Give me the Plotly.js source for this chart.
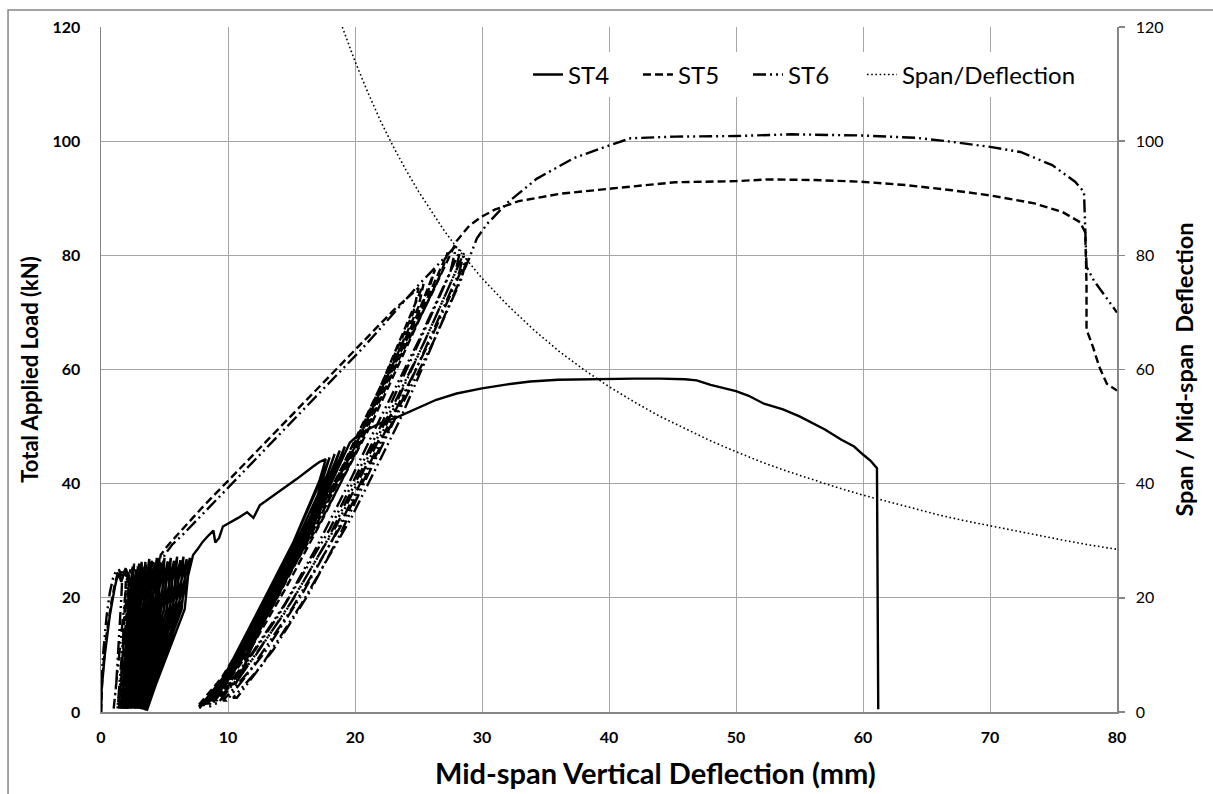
<!DOCTYPE html>
<html>
<head>
<meta charset="utf-8">
<script src="https://cdn.plot.ly/plotly-3.0.1.min.js"></script>
<style>html,body{margin:0;padding:0;background:#fff;}#chart{width:1213px;height:794px;}</style>
</head>
<body>
<div id="chart"></div>
<script>
// ---- ST4 (solid) : mid-span deflection (mm) / total applied load (kN)
const st4Deflection = [
  0, 0.05, 0.3, 0.7, 1.1, 1.35, 1.6, 1.9, 2.2,
  2.13, 1.73, 1.6, 1.98, 2.25, 2.5,
  2.40, 1.88, 1.7, 2.14, 2.46, 2.75,
  2.64, 2.01, 1.8, 2.30, 2.66, 3.0,
  2.87, 2.14, 1.9, 2.47, 2.87, 3.25,
  3.10, 2.28, 2.0, 2.63, 3.08, 3.5,
  3.33, 2.41, 2.1, 2.79, 3.29, 3.75,
  3.56, 2.54, 2.2, 2.96, 3.50, 4.0,
  3.80, 2.67, 2.3, 3.12, 3.70, 4.25,
  4.03, 2.81, 2.4, 3.28, 3.91, 4.5,
  4.26, 2.94, 2.5, 3.45, 4.12, 4.75,
  4.49, 3.07, 2.6, 3.61, 4.33, 5.0,
  4.72, 3.21, 2.7, 3.77, 4.54, 5.25,
  4.96, 3.34, 2.8, 3.93, 4.74, 5.5,
  5.19, 3.47, 2.9, 4.10, 4.95, 5.75,
  5.42, 3.61, 3.0, 4.26, 5.16, 6.0,
  5.65, 3.74, 3.1, 4.42, 5.37, 6.25,
  5.88, 3.87, 3.2, 4.59, 5.58, 6.5,
  6.12, 4.00, 3.3, 4.75, 5.78, 6.75,
  6.35, 4.18, 3.45, 4.94, 6.01, 7.0,
  6.59, 4.35, 3.6, 5.13, 6.23, 7.25,
  7.6, 8.0, 8.5, 8.85, 9.0, 9.3, 9.6, 10.2, 10.8, 11.5, 12.0, 12.5, 13.2, 14.1, 15.4, 16.7, 17.2, 17.7,
  17.2, 15.0, 12.0, 9.5, 7.7,
  7.9, 9.2, 10.6, 11.5, 11.2, 12.1, 14.5, 16.5, 18.0,
  17.4, 15.2, 12.2, 9.4, 8.0,
  8.3, 9.8, 11.0, 11.8, 14.8, 16.8, 18.4,
  17.8, 15.5, 12.5, 9.7, 8.3,
  8.6, 10.5, 12.5, 15.2, 17.2, 18.8,
  18.2, 15.8, 12.8, 10.0, 8.5,
  8.9, 11.0, 13.0, 15.8, 17.6, 19.2,
  18.6, 16.2, 13.1, 10.3, 8.8,
  9.2, 11.5, 13.5, 16.4, 18.1, 19.6,
  20.0, 21.0, 22.0, 23.3, 25.0, 26.4, 28.0, 30.0, 32.0, 33.8, 36.0, 38.0, 40.0, 42.0, 44.0, 46.0,
  46.9, 48.0, 50.0, 51.0, 52.2, 53.7, 55.0, 57.0, 58.3, 59.3, 60.0, 60.6, 61.1, 61.2
];
const st4Load = [
  0, 4, 10, 17, 22, 24.3, 22.8, 25, 24,
  18, 5, 0.6, 10, 18, 25.5,
  18, 5, 0.6, 10, 18, 25,
  18, 5, 0.6, 10, 18, 26,
  18, 5, 0.6, 10, 18, 25.5,
  18, 5, 0.6, 10, 18, 26.3,
  18, 5, 0.6, 10, 18, 25.8,
  18, 5, 0.6, 10, 18, 26.5,
  18, 5, 0.6, 10, 18, 26,
  18, 5, 0.6, 10, 18, 26.8,
  18, 5, 0.6, 10, 18, 26.2,
  18, 5, 0.6, 10, 18, 27,
  18, 5, 0.6, 10, 18, 26.4,
  18, 5, 0.6, 10, 18, 27,
  18, 5, 0.6, 10, 18, 26.5,
  18, 5, 0.6, 10, 18, 27.2,
  18, 5, 0.5, 10, 18, 26.6,
  18, 5, 0.5, 10, 18, 27.2,
  18, 5, 0.4, 10, 18, 26.8,
  18, 5, 0.3, 10, 18, 27,
  18, 5, 0.2, 10, 18, 27.5,
  28.5, 29.8, 31, 31.8, 29.7, 30.5, 32.5, 33.2, 34, 35, 34, 36.2, 37.3, 38.6, 40.8, 43, 43.8, 44.3,
  40.5, 29, 16, 5, 1,
  1.2, 4, 5, 8, 10.5, 14, 24.5, 34, 44.6,
  41, 30, 17, 5, 1.3,
  1.5, 5.5, 6.5, 11, 25, 35, 45.2,
  41.5, 30.5, 17.5, 5.5, 1.6,
  2, 8, 15.5, 27, 37, 45.8,
  42, 31, 18, 6.5, 2,
  2.5, 9.5, 17, 29, 38, 46.5,
  43, 32, 19, 7.5, 2.5,
  3, 10.5, 18.5, 31, 40, 47.2,
  48.0, 49.5, 50.6, 51.6, 53.3, 54.7, 55.8, 56.7, 57.4, 57.9, 58.2, 58.3, 58.3, 58.4, 58.4, 58.3,
  58.1, 57.3, 56.2, 55.4, 54.0, 53.0, 51.8, 49.5, 47.7, 46.5, 45.1, 44.0, 42.7, 0.5
];

// ---- ST5 (dashed)
const st5Deflection = [
  0, 0.1, 0.4, 0.8, 1.1, 1.4, 1.7, 2.0,
  1.9, 1.6, 1.4, 1.75, 2.0, 2.3,
  2.2, 1.8, 1.6, 1.98, 2.28, 2.6,
  2.5, 1.95, 1.75, 2.19, 2.53, 2.9,
  2.8, 2.1, 1.9, 2.39, 2.78, 3.2,
  3.1, 2.25, 2.05, 2.6, 3.04, 3.5,
  3.4, 2.4, 2.2, 2.81, 3.29, 3.8,
  3.7, 2.55, 2.35, 3.02, 3.54, 4.1,
  4.0, 2.7, 2.5, 3.22, 3.79, 4.4,
  4.3, 2.85, 2.65, 3.43, 4.04, 4.7,
  5.2, 6.0, 7.0, 8.0, 9.0, 10.0, 11.0, 12.0, 13.0, 14.0, 15.0, 16.0, 17.0, 18.0, 19.0, 20.0, 21.0, 22.0, 23.0, 24.0, 25.0,
  24.6, 23.0, 20.0, 16.0, 12.0, 9.5, 7.6,
  7.8, 10.0, 13.0, 16.0, 19.0, 22.0, 25.4,
  25.0, 23.2, 20.0, 16.0, 12.0, 9.6, 7.9,
  8.1, 10.5, 13.5, 16.5, 19.5, 22.5, 25.0, 26.3,
  25.8, 23.8, 20.5, 16.5, 12.5, 10.0, 8.3,
  8.5, 11.0, 14.0, 17.0, 20.0, 23.0, 25.5, 27.3,
  26.8, 24.7, 21.3, 17.2, 13.0, 10.4, 8.7,
  8.9, 11.5, 14.5, 17.5, 20.5, 23.5, 26.0, 28.0,
  29.0, 30.0, 31.0, 32.9, 36.2, 40.2, 45.2, 50.0, 52.5, 56.0, 59.8, 63.4, 67.0, 70.0, 73.5, 75.7, 77.1,
  77.5, 77.6, 77.6, 78.1, 78.6, 79.2, 80.0
];
const st5Load = [
  0, 6, 13, 19, 22.5, 25, 23.5, 25.5,
  20, 5, 0.6, 10, 18, 25,
  20, 5, 0.6, 10, 18, 26,
  20, 5, 0.6, 10, 18, 25.5,
  20, 5, 0.6, 10, 18, 26.3,
  20, 5, 0.6, 10, 18, 26,
  20, 5, 0.6, 10, 18, 26.8,
  20, 5, 0.6, 10, 18, 26.3,
  20, 5, 0.6, 10, 18, 27,
  20, 5, 0.6, 10, 18, 27.5,
  29, 31, 33.5, 35.9, 38.2, 40.5, 42.8, 45.1, 47.4, 49.7, 52, 54.3, 56.6, 58.9, 61.2, 63.5, 65.8, 68.1, 70.3, 72.3, 74.3,
  70, 62, 47, 30, 15, 6, 1,
  0.8, 7, 18, 30, 43, 57, 75,
  71, 62, 46.5, 29.5, 15, 6, 1.2,
  1.2, 8, 19.5, 32, 45, 59, 70, 77.5,
  74, 64, 48, 31, 16, 7, 1.5,
  1.5, 9, 20.5, 33, 46.5, 60.5, 71.5, 80.5,
  77, 67, 50.5, 33, 17.5, 8, 2,
  2, 10, 21.5, 34, 47.5, 62, 73, 82.5,
  85.2, 86.8, 88, 89.5, 90.8, 91.7, 92.8, 93.0, 93.3, 93.2, 92.9, 92.3, 91.4, 90.5, 89.1, 87.6, 85.8,
  84, 75, 67, 64, 60.5, 57.5, 56.3
];

// ---- ST6 (dash-dot-dot)
const st6Deflection = [
  0, 0.02, 0.2, 0.45, 0.7, 0.95, 1.2, 1.45, 1.7,
  1.6, 1.2, 1.0, 1.42, 1.75, 2.1,
  2.0, 1.5, 1.3, 1.76, 2.12, 2.5,
  2.4, 1.75, 1.55, 2.04, 2.43, 2.85,
  2.75, 1.95, 1.75, 2.3, 2.74, 3.2,
  3.1, 2.15, 1.95, 2.56, 3.04, 3.55,
  3.45, 2.35, 2.15, 2.82, 3.34, 3.9,
  3.8, 2.55, 2.35, 3.07, 3.64, 4.25,
  4.15, 2.75, 2.55, 3.33, 3.94, 4.6,
  4.5, 2.95, 2.75, 3.6, 4.28, 5.0,
  5.6, 6.5, 7.5, 8.5, 10.0, 11.5, 13.0, 14.5, 16.0, 17.5, 19.0, 20.5, 22.0, 23.5, 25.0, 26.5, 28.0,
  27.5, 25.5, 22.0, 18.0, 14.0, 10.8, 8.4,
  8.6, 11.5, 14.5, 17.0, 19.5, 22.0, 25.0, 28.3,
  27.9, 26.0, 22.5, 18.5, 14.5, 11.2, 8.9,
  9.2, 12.2, 15.2, 17.8, 20.0, 22.5, 25.5, 28.6,
  28.2, 26.4, 23.0, 19.0, 15.0, 11.8, 9.6,
  9.9, 12.9, 15.8, 18.3, 20.4, 23.0, 25.9, 28.8,
  28.4, 26.7, 23.5, 19.7, 15.8, 12.6, 10.4,
  10.7, 13.6, 16.3, 18.8, 20.8, 23.3, 26.2, 29.0,
  29.6, 30.4, 32.0, 34.3, 37.2, 40.2, 41.7, 45.2, 50.0, 54.3, 59.8, 64.1, 66.6, 70.0, 72.4, 74.9, 76.7, 77.4,
  77.5, 77.6, 78.2, 79.0, 80.0
];
const st6Load = [
  0, 5, 11, 17, 21, 23.5, 24.8, 23.5, 25,
  20, 5, 0.6, 10, 18, 24.5,
  20, 5, 0.6, 10, 18, 25.5,
  20, 5, 0.6, 10, 18, 25,
  20, 5, 0.6, 10, 18, 26,
  20, 5, 0.6, 10, 18, 25.8,
  20, 5, 0.6, 10, 18, 26.5,
  20, 5, 0.6, 10, 18, 26.2,
  20, 5, 0.6, 10, 18, 27,
  20, 5, 0.6, 10, 18, 27.5,
  29.3, 31.2, 33.5, 35.8, 39.3, 42.8, 46.2, 49.6, 53.1, 56.6, 60.1, 63.5, 67.2, 71, 74.8, 78.3, 81.8,
  77, 67, 50, 32, 17, 6.5, 1,
  1, 9, 19, 29, 40, 51.5, 65, 81,
  77, 67.5, 50.5, 32.5, 17.5, 7, 1.5,
  1.5, 10, 20, 30, 40, 51.5, 65, 80.5,
  77, 68, 51, 33, 18, 7.5, 2,
  2, 10.5, 20.5, 30.5, 40, 52, 65, 79.5,
  76, 67.5, 51, 34, 19, 8, 2.5,
  2.5, 11, 20.5, 31, 40.5, 52, 65, 79.5,
  83, 85.5, 89.2, 93.4, 97, 99.4, 100.5, 100.8, 100.9, 101.2, 101.0, 100.6, 100, 99, 98.1, 95.8, 92.9, 91.1,
  85, 78, 75.5, 73, 70
];

// ---- Span / mid-span deflection (right axis)
const spanDeflection = [19, 19.5, 20, 21, 22, 23, 24, 25, 26, 27, 28, 29, 30, 32, 34, 36, 38, 40, 42, 44, 46, 48, 50, 52, 54, 56, 58, 60, 62, 64, 66, 68, 70, 72, 74, 76, 78, 80];
const spanRatio = [120, 116.9, 114, 108.6, 103.6, 99.1, 95, 91.2, 87.7, 84.4, 81.4, 78.6, 76, 71.3, 67.1, 63.3, 60, 57, 54.3, 51.8, 49.6, 47.5, 45.6, 43.8, 42.2, 40.7, 39.3, 38, 36.8, 35.6, 34.5, 33.5, 32.6, 31.7, 30.8, 30, 29.2, 28.5];

const xTicks = [0, 10, 20, 30, 40, 50, 60, 70, 80];
const yTicks = [0, 20, 40, 60, 80, 100, 120];

const FONT = 'Lato, "Open Sans", sans-serif';
const GRID = '#a6a6a6';
const AXIS = '#868686';

const traces = [
  {x: st4Deflection, y: st4Load, name: 'ST4', type: 'scatter', mode: 'lines', legend: 'legend',
   line: {color: '#000', width: 2.4, dash: 'solid'}},
  {x: st5Deflection, y: st5Load, name: 'ST5', type: 'scatter', mode: 'lines', legend: 'legend',
   line: {color: '#000', width: 2.4, dash: '8px,4px'}},
  {x: st6Deflection, y: st6Load, name: 'ST6', type: 'scatter', mode: 'lines', legend: 'legend',
   line: {color: '#000', width: 2.4, dash: '13px,4px,2px,4px,2px,4px'}},
  {x: spanDeflection, y: spanRatio, name: 'Span/Deflection', type: 'scatter', mode: 'lines', legend: 'legend2',
   yaxis: 'y2', line: {color: '#000', width: 1.6, dash: '1.6px,2.6px'}}
];

const legendFont = {family: FONT, size: 24, color: '#000'};

const layout = {
  width: 1213, height: 794,
  margin: {l: 101, r: 96, t: 27, b: 82, pad: 0},
  paper_bgcolor: '#fff', plot_bgcolor: '#fff',
  font: {family: FONT, color: '#000'},
  showlegend: true,
  legend: {orientation: 'h', x: 0.4203, xanchor: 'left', y: 0.93, yanchor: 'middle',
           entrywidth: 65, entrywidthmode: 'pixels',
           bgcolor: '#fff', font: legendFont, traceorder: 'normal'},
  legend2: {orientation: 'h', x: 0.749, xanchor: 'left', y: 0.93, yanchor: 'middle',
            bgcolor: '#fff', font: legendFont},
  xaxis: {range: [0, 80], tickvals: xTicks, ticktext: xTicks.map(String),
          showgrid: true, gridcolor: GRID, gridwidth: 1, zeroline: false,
          showline: true, linecolor: AXIS, linewidth: 1.5, ticks: '',
          tickfont: {family: FONT, size: 16, weight: 700, color: '#000'}, ticklabelstandoff: 10,
          title: {text: ''}},
  yaxis: {range: [0, 120], tickvals: yTicks, ticktext: yTicks.map(String),
          showgrid: true, gridcolor: GRID, gridwidth: 1, zeroline: false,
          showline: true, linecolor: AXIS, linewidth: 1.5, ticks: '',
          tickfont: {family: FONT, size: 16, weight: 700, color: '#000'}, ticklabelstandoff: 16,
          title: {text: 'Total Applied Load (kN)', standoff: 8,
                  font: {family: FONT, size: 22, weight: 700, color: '#000'}}},
  yaxis2: {range: [0, 120], tickvals: yTicks, ticktext: yTicks.map(String),
           overlaying: 'y', side: 'right', showgrid: false, zeroline: false,
           showline: true, linecolor: AXIS, linewidth: 1.5,
           ticks: 'outside', ticklen: 6, tickcolor: AXIS, tickwidth: 1.5,
           tickfont: {family: FONT, size: 16, color: '#000'}, ticklabelstandoff: 8,
           title: {text: 'Span / Mid-span  Deflection', standoff: 14,
                   font: {family: FONT, size: 23.5, weight: 700, color: '#000'}}},
  annotations: [
    {text: 'Mid-span Vertical Deflection (mm)', xref: 'paper', yref: 'paper',
     x: 0.546, y: -0.089, xanchor: 'center', yanchor: 'middle', showarrow: false,
     font: {family: FONT, size: 29, weight: 700, color: '#000'}}
  ],
  shapes: [
    {type: 'rect', xref: 'paper', yref: 'paper', x0: -0.0915, x1: 1.2, y0: -0.3, y1: 1.0248,
     line: {color: AXIS, width: 1.5}, fillcolor: 'rgba(0,0,0,0)', layer: 'below'}
  ]
};

Plotly.newPlot('chart', traces, layout, {staticPlot: true, displayModeBar: false});
</script>
</body>
</html>
